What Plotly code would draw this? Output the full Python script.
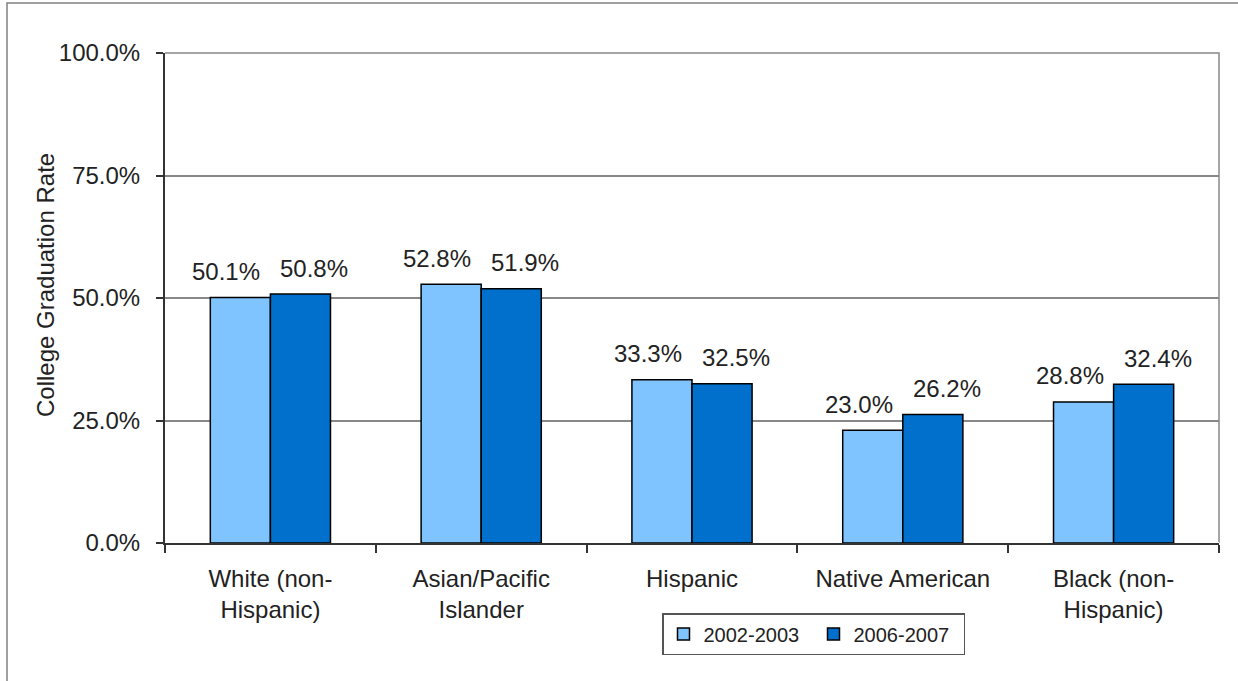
import plotly.graph_objects as go

categories = ["White (non-<br>Hispanic)", "Asian/Pacific<br>Islander", "Hispanic",
              "Native American", "Black (non-<br>Hispanic)"]
series_names = ["2002-2003", "2006-2007"]
values_2002 = [50.1, 52.8, 33.3, 23.0, 28.8]
values_2006 = [50.8, 51.9, 32.5, 26.2, 32.4]
y_ticks = [0, 25, 50, 75, 100]

colors = ["#80C4FF", "#0070CC"]
FONT = "Liberation Sans, Arial, sans-serif"
W, H = 1238, 681
L, R, T, B = 165, 19, 53, 138
pw, ph = W - L - R, H - T - B

fig = go.Figure()
for name, vals, col in zip(series_names, [values_2002, values_2006], colors):
    fig.add_trace(go.Bar(
        x=categories, y=vals, name=name,
        marker=dict(color=col, line=dict(color="#000000", width=1.5)),
    ))

# value labels above bars (spread slightly outward like the original)
for i, vals in enumerate([values_2002, values_2006]):
    for j, v in enumerate(vals):
        fig.add_annotation(
            x=j, y=v, xref="x", yref="y",
            text=f"{v:.1f}%", showarrow=False,
            xshift=(-1 if i == 0 else 1) * 44,
            yshift=26, font=dict(size=24, color="#222222", family=FONT),
        )

# y-axis title
fig.add_annotation(x=(45 - L) / pw, y=(T + ph - 285) / ph, xref="paper", yref="paper",
                   text="College Graduation Rate", textangle=-90, showarrow=False,
                   xanchor="center", yanchor="middle",
                   font=dict(size=24, color="#222222", family=FONT))

# outer frame (left and top)
fx = (7 - L) / pw
fy_top = (T + ph - 3) / ph
fy_bot = (T + ph - H) / ph
fig.add_shape(type="path", xref="paper", yref="paper",
              path=f"M {fx} {fy_bot - 0.1} L {fx} {fy_top} L 1.2 {fy_top}",
              line=dict(color="#808080", width=1.5))
# plot area border (top and right)
fig.add_shape(type="path", xref="paper", yref="paper",
              path="M 0 1 L 1 1 L 1 0",
              line=dict(color="#888888", width=1.5), layer="below")

fig.update_layout(
    width=W, height=H,
    margin=dict(l=L, r=R, t=T, b=B),
    paper_bgcolor="white", plot_bgcolor="white",
    font=dict(family=FONT, color="#222222", size=24),
    barmode="group", bargap=0.43, bargroupgap=0,
    showlegend=True,
    legend=dict(orientation="h", x=(662 - L) / pw, y=(T + ph - 613) / ph,
                xanchor="left", yanchor="top",
                bordercolor="#555555", borderwidth=1.5,
                font=dict(size=20), entrywidth=105,
                itemwidth=30, traceorder="normal"),
    xaxis=dict(showline=True, linecolor="#333333", linewidth=2,
               ticks="outside", ticklen=8, tickcolor="#333333", tickwidth=1.5,
               tickson="boundaries", tickfont=dict(size=24, color="#222222"),
               ticklabelstandoff=13, showgrid=False),
    yaxis=dict(range=[0, 100], tickvals=y_ticks,
               ticktext=[f"{t:.1f}%" for t in y_ticks],
               showline=True, linecolor="#333333", linewidth=2,
               ticks="outside", ticklen=7, tickcolor="#333333", tickwidth=1.5,
               ticklabelstandoff=11,
               showgrid=True, gridcolor="#888888", gridwidth=1.5,
               tickfont=dict(size=24, color="#222222")),
)

fig.write_html("out.html", config={"displayModeBar": False},
               post_script="document.body.style.margin='0px';")
